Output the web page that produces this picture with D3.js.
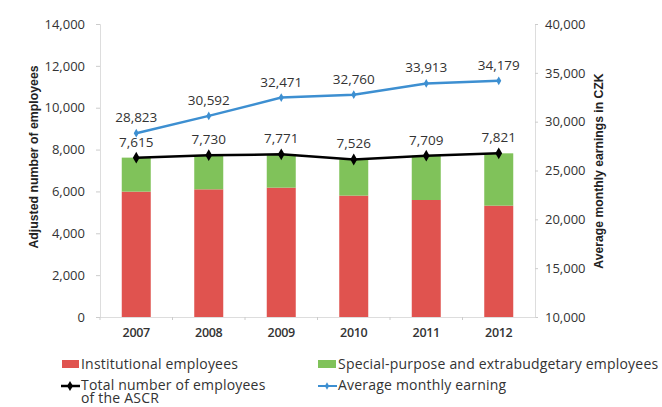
<!DOCTYPE html>
<html><head><meta charset="utf-8">
<script src="https://cdn.jsdelivr.net/npm/d3@7"></script>
<style>
html,body{margin:0;padding:0;background:#fff;}
text{font-family:"Open Sans","Liberation Sans",Arial,sans-serif;fill:#333;}
</style></head>
<body><svg id="c" width="662" height="407"></svg>
<script>
const years = ["2007","2008","2009","2010","2011","2012"];
const institutional = [5990, 6100, 6180, 5800, 5590, 5320];
const totals = [7615, 7730, 7771, 7526, 7709, 7821];
const earnings = [28823, 30592, 32471, 32760, 33913, 34179];
const leftTicks = [0,2000,4000,6000,8000,10000,12000,14000];
const rightTicks = [10000,15000,20000,25000,30000,35000,40000];

const special = totals.map((t,i)=>t-institutional[i]);
const colors = {inst:"#e0534f", spec:"#80c25a", total:"#000", earn:"#3d8fd1"};
const svg = d3.select("#c");
const L=100, R=535, T=24, B=317;
const x = d3.scaleBand().domain(years).range([L,R]).paddingInner(0.6).paddingOuter(0.3);
const yL = d3.scaleLinear().domain([0,14000]).range([B,T]);
const yR = d3.scaleLinear().domain([10000,40000]).range([B,T]);
const fmt = d3.format(",");
const FF = "'Open Sans','Liberation Sans',Arial,sans-serif";

// axes
const gL = svg.append("g").attr("transform",`translate(${L},0)`)
  .call(d3.axisLeft(yL).tickValues(leftTicks).tickFormat(fmt).tickSize(4).tickPadding(11));
const gR = svg.append("g").attr("transform",`translate(${R},0)`)
  .call(d3.axisRight(yR).tickValues(rightTicks).tickFormat(fmt).tickSize(3).tickPadding(7));
const gB = svg.append("g").attr("transform",`translate(0,${B})`)
  .call(d3.axisBottom(x).tickSize(0).tickPadding(11));
[gL,gR,gB].forEach(g=>{
  g.selectAll("path.domain").attr("stroke","#ddd");
  g.selectAll("line").attr("stroke","#ccc");
  g.selectAll("text").style("font-size","13px").style("fill","#333")
    .style("font-family",FF).style("letter-spacing","0px");
});
gB.selectAll("text").style("font-weight","600").style("font-size","12.5px").style("fill","#333")
  .style("letter-spacing","-0.3px");
// bottom separators
const step = x.step();
svg.append("g").selectAll("line").data(years).join("line")
  .attr("x1",d=>x(d)-step*0.3).attr("x2",d=>x(d)-step*0.3)
  .attr("y1",B).attr("y2",B+3).attr("stroke","#ccc");

// bars
const bw = x.bandwidth();
svg.append("g").selectAll("rect").data(years).join("rect")
  .attr("x",d=>x(d)).attr("width",bw)
  .attr("y",(d,i)=>yL(institutional[i])).attr("height",(d,i)=>yL(0)-yL(institutional[i]))
  .attr("fill",colors.inst);
svg.append("g").selectAll("rect").data(years).join("rect")
  .attr("x",d=>x(d)).attr("width",bw)
  .attr("y",(d,i)=>yL(totals[i])).attr("height",(d,i)=>yL(institutional[i])-yL(totals[i]))
  .attr("fill",colors.spec);

const cx = d=>x(d)+bw/2;
// total line
svg.append("path").datum(years).attr("fill","none").attr("stroke",colors.total).attr("stroke-width",2.5)
  .attr("d",d3.line().x(cx).y((d,i)=>yL(totals[i])));
svg.append("g").selectAll("path").data(years).join("path")
  .attr("d",d3.symbol(d3.symbolDiamond,40)())
  .attr("transform",(d,i)=>`translate(${cx(d)},${yL(totals[i])})`).attr("fill",colors.total);
// earnings line
svg.append("path").datum(years).attr("fill","none").attr("stroke",colors.earn).attr("stroke-width",2.5)
  .attr("d",d3.line().x(cx).y((d,i)=>yR(earnings[i])));
svg.append("g").selectAll("path").data(years).join("path")
  .attr("d",d3.symbol(d3.symbolDiamond,22)())
  .attr("transform",(d,i)=>`translate(${cx(d)},${yR(earnings[i])})`).attr("fill",colors.earn);

// labels
svg.append("g").selectAll("text").data(years).join("text")
  .attr("x",cx).attr("y",(d,i)=>yL(totals[i])-11).attr("text-anchor","middle")
  .style("font-size","13.5px").text((d,i)=>fmt(totals[i]));
svg.append("g").selectAll("text").data(years).join("text")
  .attr("x",cx).attr("y",(d,i)=>yR(earnings[i])-11).attr("text-anchor","middle")
  .style("font-size","13.5px").text((d,i)=>fmt(earnings[i]));

// axis titles
svg.append("text").attr("transform",`translate(38,157) rotate(-90)`)
  .attr("text-anchor","middle").style("font-family","'Liberation Sans',Arial,sans-serif")
  .style("font-size","12.3px").style("font-weight","bold").style("fill","#222")
  .text("Adjusted number of employees");
svg.append("text").attr("transform",`translate(603,171) rotate(-90)`)
  .attr("text-anchor","middle").style("font-family","'Liberation Sans',Arial,sans-serif")
  .style("font-size","12.2px").style("font-weight","bold").style("fill","#222")
  .text("Average monthly earnings in CZK");

// legend
const leg = svg.append("g").style("font-size","14px").style("letter-spacing","0.2px");
leg.append("rect").attr("x",62).attr("y",360).attr("width",17).attr("height",8).attr("fill",colors.inst);
leg.append("text").attr("x",81).attr("y",369).text("Institutional employees");
leg.append("rect").attr("x",318).attr("y",360).attr("width",18).attr("height",8).attr("fill",colors.spec);
leg.append("text").attr("x",338).attr("y",369).text("Special-purpose and extrabudgetary employees");
leg.append("line").attr("x1",61).attr("x2",80).attr("y1",386).attr("y2",386).attr("stroke",colors.total).attr("stroke-width",2.5);
leg.append("path").attr("d",d3.symbol(d3.symbolDiamond,30)()).attr("transform","translate(70,386)").attr("fill",colors.total);
const tt = leg.append("text").attr("x",81).attr("y",390);
tt.append("tspan").attr("x",81).attr("y",390).text("Total number of employees");
tt.append("tspan").attr("x",81).attr("y",403).text("of the ASCR");
leg.append("line").attr("x1",318).attr("x2",337).attr("y1",386).attr("y2",386).attr("stroke",colors.earn).attr("stroke-width",2);
leg.append("path").attr("d",d3.symbol(d3.symbolDiamond,16)()).attr("transform","translate(327,386)").attr("fill",colors.earn);
leg.append("text").attr("x",338).attr("y",390).text("Average monthly earning");
</script></body></html>
